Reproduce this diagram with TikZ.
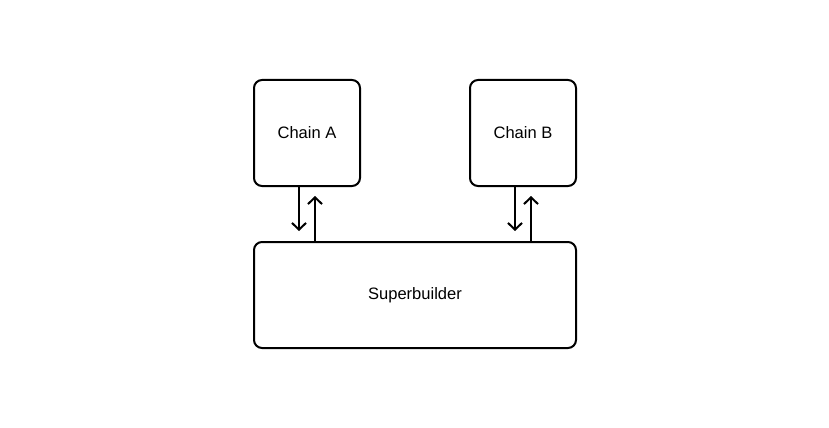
\documentclass[tikz,border=0pt]{standalone}
\usepackage{fontspec}
\setmainfont{Liberation Sans}
\usetikzlibrary{arrows.meta}
\begin{document}
\begin{tikzpicture}[x=0.75pt,y=-0.75pt,
  box/.style={draw=black,line width=1.5pt,rounded corners=6pt,inner sep=0pt,font=\fontsize{12.4}{14}\selectfont},
  conn/.style={line width=1.5pt,-{Straight Barb[length=5pt,width=10.5pt,line width=1.5pt]}}]
\useasboundingbox (0,0) rectangle (829,428);
\node[box,minimum width=106*0.75pt,minimum height=106*0.75pt] (a) at (307,133) {Chain A};
\node[box,minimum width=106*0.75pt,minimum height=106*0.75pt] (b) at (523,133) {Chain B};
\node[box,minimum width=322*0.75pt,minimum height=106*0.75pt] (s) at (415,295) {Superbuilder};
\coordinate (a1) at (299,231);
\coordinate (a2) at (315,196);
\coordinate (b1) at (515,231);
\coordinate (b2) at (531,196);
\draw[conn] (a.south -| a1) -- (a1);
\draw[conn] (s.north -| a2) -- (a2);
\draw[conn] (b.south -| b1) -- (b1);
\draw[conn] (s.north -| b2) -- (b2);
\end{tikzpicture}
\end{document}
